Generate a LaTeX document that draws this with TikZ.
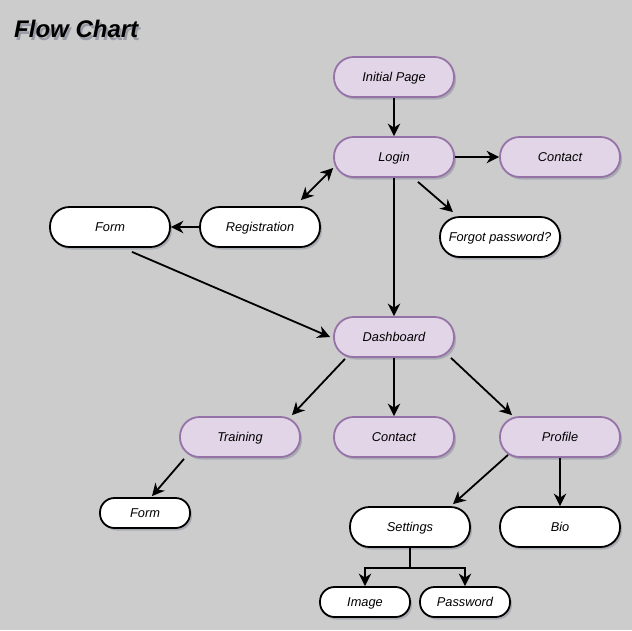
\documentclass[tikz,border=0pt]{standalone}
\usepackage{fontspec}
\setmainfont{Liberation Sans}
\usetikzlibrary{shadows,arrows.meta,calc}
\definecolor{bggray}{HTML}{CCCCCC}
\definecolor{purpfill}{HTML}{E1D5E7}
\definecolor{purpline}{HTML}{9673A6}
\definecolor{shadowcol}{HTML}{5A6078}
\tikzset{
  tip/.tip={Stealth[length=12.5pt 0, width=12.5pt 0, inset=4pt 0]}
}
\begin{document}
\begin{tikzpicture}[x=1pt,y=-1pt,
  box/.style={rectangle, rounded corners=19.5pt, minimum width=120pt, minimum height=40pt,
    line width=1.8pt, inner sep=0pt, text height=9.5pt, text depth=1.5pt,
    font=\fontsize{12.8}{15}\selectfont\itshape,
    drop shadow={shadow xshift=2pt, shadow yshift=-2.5pt, opacity=0.3, fill=shadowcol}},
  pbox/.style={box, fill=purpfill, draw=purpline},
  wbox/.style={box, fill=white, draw=black},
  sbox/.style={wbox, minimum width=90pt, minimum height=30pt, rounded corners=14.5pt},
  arr/.style={line width=1.8pt, -tip},
  darr/.style={line width=1.8pt, tip-tip},
  titlestyle/.style={font=\fontsize{24}{28}\selectfont\bfseries\itshape, inner sep=0pt, anchor=base west}
]
\useasboundingbox (0,0) rectangle (632,630);
\fill[bggray] (0,0) rectangle (632,630);

% title with its shadow
\node[titlestyle, text=shadowcol, opacity=0.45] (titleshadow) at (16,40) {Flow Chart};
\node[titlestyle, text=black] (title) at (14,37) {Flow Chart};

% nodes
\node[pbox] (init) at (394,77) {Initial Page};
\node[pbox] (login) at (394,157) {Login};
\node[pbox] (contact1) at (560,157) {Contact};
\node[wbox] (reg) at (260,227) {Registration};
\node[wbox] (form1) at (110,227) {Form};
\node[wbox] (forgot) at (500,237) {Forgot password?};
\node[pbox] (dash) at (394,337) {Dashboard};
\node[pbox] (train) at (240,437) {Training};
\node[pbox] (contact2) at (394,437) {Contact};
\node[pbox] (profile) at (560,437) {Profile};
\node[sbox] (form2) at (145,513) {Form};
\node[wbox] (settings) at (410,527) {Settings};
\node[wbox] (bio) at (560,527) {Bio};
\node[sbox] (image) at (365,602) {Image};
\node[sbox] (password) at (465,602) {Password};

% connectors
\draw[arr] (init) -- (login);
\draw[arr] (login) -- (contact1);
\draw[arr] (login) -- (dash);
\draw[darr] ([shift={(0,11)}]login.west) -- ([shift={(-20,-6)}]reg.north east);
\draw[arr] (reg) -- (form1);
\draw[arr] ([shift={(24,4)}]login.south) -- ([shift={(-47,-4)}]forgot.north);
\draw[arr] ([shift={(22,4)}]form1.south) -- ([shift={(-3,0)}]dash.west);
\draw[arr] ([shift={(-49,1)}]dash.south) -- ([shift={(52,-1)}]train.north);
\draw[arr] (dash) -- (contact2);
\draw[arr] ([shift={(57,0)}]dash.south) -- ([shift={(-48,-1)}]profile.north);
\draw[arr] ([shift={(-56,1)}]train.south) -- ([shift={(7,-1)}]form2.north);
\draw[arr] ([shift={(-52,-3)}]profile.south) -- ([shift={(43,-2)}]settings.north);
\draw[arr] (profile) -- (bio);
\draw[arr] (settings.south) -- ++(0,20) -| (image.north);
\draw[arr] (settings.south) -- ++(0,20) -| (password.north);
\end{tikzpicture}
\end{document}
